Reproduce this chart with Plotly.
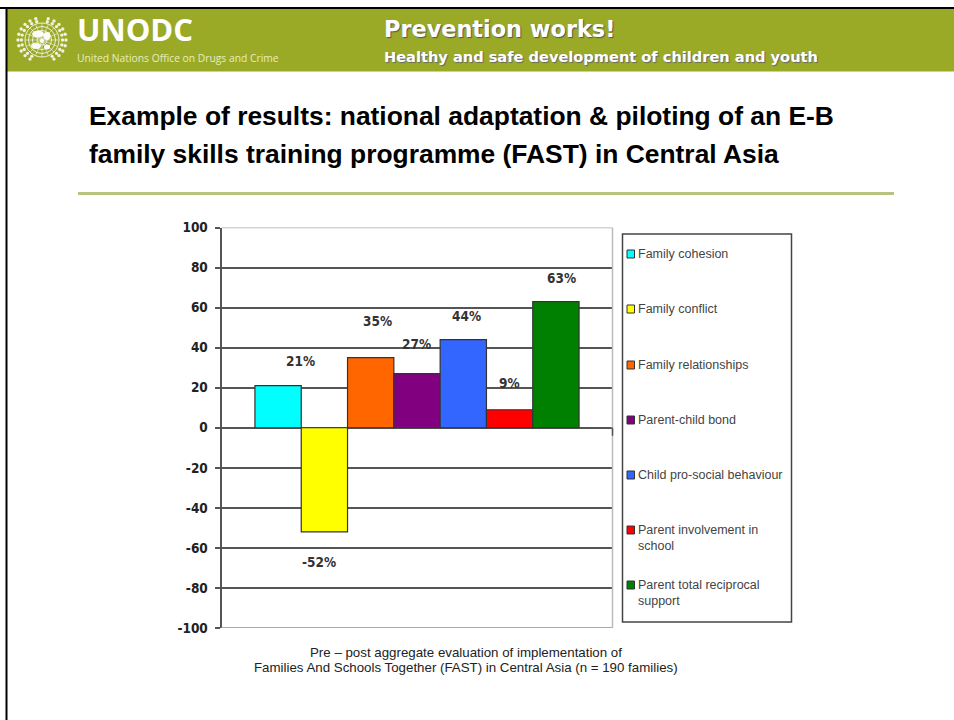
import math
import plotly.graph_objects as go

categories = ["Family cohesion", "Family conflict", "Family relationships", "Parent-child bond",
              "Child pro-social behaviour", "Parent involvement in<br>school", "Parent total reciprocal<br>support"]
values = [21, -52, 35, 27, 44, 9, 63]
colors = ["#00FFFF", "#FFFF00", "#FF6600", "#800080", "#3366FF", "#FF0000", "#008000"]
labels = ["21%", "-52%", "35%", "27%", "44%", "9%", "63%"]
tick_values = [100, 80, 60, 40, 20, 0, -20, -40, -60, -80, -100]
tick_labels = ["100", "80", "60", "40", "20", "0", "-20", "-40", "-60", "-80", "-100"]

label_px = [(284, 361), (319, 572), (377, 321), (416, 344), (466, 316), (509, 383), (561, 278)]
legend_y_px = [254, 309, 365, 420, 475, 530, 585]

W, H = 954, 720
px = lambda v: v / W
py = lambda v: 1 - v / H
GREEN = "#9AAA27"
DARK = "#555555"
COND = "DejaVu Sans Condensed, Liberation Sans, sans-serif"

fig = go.Figure()
for c, v, col in zip(categories, values, colors):
    fig.add_trace(go.Bar(x=["Score"], y=[v], name=c.replace("<br>", " "), showlegend=False,
                         marker=dict(color=col, line=dict(color="#333333", width=1.2))))


def rect(x0, y0, x1, y1, fill, **kw):
    return dict(type="rect", xref="paper", yref="paper", x0=px(x0), x1=px(x1), y0=py(y0), y1=py(y1),
                fillcolor=fill, **kw)


def ell(cx, cy, rx, ry, fill="rgba(0,0,0,0)", lw=0, lc="white"):
    return dict(type="circle", xref="paper", yref="paper", x0=px(cx - rx), x1=px(cx + rx),
                y0=py(cy - ry), y1=py(cy + ry), fillcolor=fill, line=dict(color=lc, width=lw))


shapes = [
    rect(7, 9, 954, 71.5, GREEN, line_width=0, layer="below"),
    rect(0, 7, 954, 9, "black", line_width=0),
    rect(5.5, 7, 7.5, 720, "black", line_width=0),
    rect(78, 192, 894, 195, "#B8C47E", line_width=0),
    dict(type="line", xref="x domain", yref="y", x0=0, x1=1, y0=100, y1=100, line=dict(color="#AAAAAA", width=1.5)),
    dict(type="line", xref="x domain", yref="y", x0=0, x1=1, y0=-100, y1=-100, line=dict(color="#AAAAAA", width=2)),
    dict(type="line", xref="x domain", yref="y", x0=1, x1=1, y0=-100, y1=100, line=dict(color="#BBBBBB", width=1.5)),
    dict(type="line", xref="x domain", yref="y", x0=1, x1=1, y0=0, y1=-4, line=dict(color=DARK, width=1.5)),
    rect(622.5, 234, 791.5, 622, "rgba(0,0,0,0)", line=dict(color="#444444", width=1.5)),
]
for col, y in zip(colors, legend_y_px):
    shapes.append(rect(627, y - 4, 634.5, y + 4, col, line=dict(color="#333333", width=1)))

# UN emblem (decorative)
CX, CY = 42, 40
for r in (5, 9.5, 13.5, 17):
    shapes.append(ell(CX, CY, r, r, lw=0.9, lc="rgba(255,255,255,0.9)"))
for k in range(8):
    a = math.pi * k / 8
    shapes.append(dict(type="line", xref="paper", yref="paper",
                       x0=px(CX - 17 * math.cos(a)), x1=px(CX + 17 * math.cos(a)),
                       y0=py(CY - 17 * math.sin(a)), y1=py(CY + 17 * math.sin(a)),
                       line=dict(color="rgba(255,255,255,0.75)", width=0.7)))
for cx, cy, rx, ry in [(38, 34, 6, 3.5), (47, 36, 3.5, 4), (36, 46, 5, 3), (47, 47, 3, 2.5), (42, 41, 2, 2)]:
    shapes.append(ell(cx, cy, rx, ry, fill="rgba(255,255,255,0.95)"))
for deg in range(-150, 151, 15):
    if abs(deg) < 8:
        continue
    a = math.radians(deg)  # measured from straight up
    for rr in (20.5, 24):
        shapes.append(ell(CX + rr * math.sin(a), CY - rr * 0.92 * math.cos(a), 1.7, 1.7,
                          fill="rgba(255,255,255,0.85)"))

annotations = []
for t, a, b, xa, f, s, c, sh in [
    ("<b>UNODC</b>", 75, 29, "left", "Open Sans", 31, "white", None),
    ("United Nations Office on Drugs and Crime", 75, 57.5, "left", "Open Sans", 10.3, "#E8EDC0", None),
    ("<b>Prevention works!</b>", 382, 29, "left", "DejaVu Sans", 22.4, "white", "1px 1px 1px #555"),
    ("<b>Healthy and safe development of children and youth</b>", 382, 57, "left", "DejaVu Sans", 14.6, "white", "1px 1px 1px #666"),
    ("<b>Example of results: national adaptation &amp; piloting of an E-B</b>", 87, 116, "left", "Liberation Sans", 26.4, "black", None),
    ("<b>family skills training programme (FAST) in Central Asia</b>", 87, 154, "left", "Liberation Sans", 26.4, "black", None),
    ("Pre – post aggregate evaluation of implementation of", 466, 652, "center", "Liberation Sans", 13.3, "#222222", None),
    ("Families And Schools Together (FAST) in Central Asia (n = 190 families)", 466, 667, "center", "Liberation Sans", 13.3, "#222222", None),
]:
    fnt = dict(family=f, size=s, color=c)
    if sh:
        fnt["shadow"] = sh
    annotations.append(dict(text=t, x=px(a), y=py(b), xref="paper", yref="paper", showarrow=False, xanchor=xa,
                            yanchor="middle", align="left", font=fnt))
for lab, (a, b) in zip(labels, label_px):
    annotations.append(dict(text=f"<b>{lab}</b>", x=px(a), y=py(b), xref="paper", yref="paper", showarrow=False,
                            font=dict(family=COND, size=13.5, color="#333333")))
for cat, y in zip(categories, legend_y_px):
    annotations.append(dict(text=cat, x=px(637), y=py(y - 8), xref="paper", yref="paper", showarrow=False,
                            xanchor="left", yanchor="top", align="left", borderpad=0,
                            font=dict(family="Liberation Sans", size=12.5, color="#444444")))

fig.update_layout(
    width=W, height=H, autosize=False, margin=dict(l=0, r=0, t=0, b=0, pad=0),
    paper_bgcolor="white", plot_bgcolor="white",
    barmode="group", bargap=0.171, bargroupgap=0,
    font=dict(family="Liberation Sans"), showlegend=False,
    xaxis=dict(domain=[px(221.5), px(612.5)], showticklabels=False, ticks="", showgrid=False, zeroline=False,
               showline=False, automargin=False),
    yaxis=dict(domain=[py(628), py(227.5)], range=[-100, 100], tickvals=tick_values, ticktext=tick_labels,
               showgrid=True, gridcolor=DARK, gridwidth=2, zeroline=True, zerolinecolor=DARK, zerolinewidth=2,
               showline=True, linecolor=DARK, linewidth=2, ticks="outside", ticklen=5, tickcolor=DARK, tickwidth=1.5,
               ticklabelstandoff=4, automargin=False,
               tickfont=dict(family=COND, size=13.5, color="#222222", weight="bold")),
    shapes=shapes, annotations=annotations,
)
fig.write_html("out.html", config=dict(displayModeBar=False),
               post_script="document.body.style.margin='0';")
